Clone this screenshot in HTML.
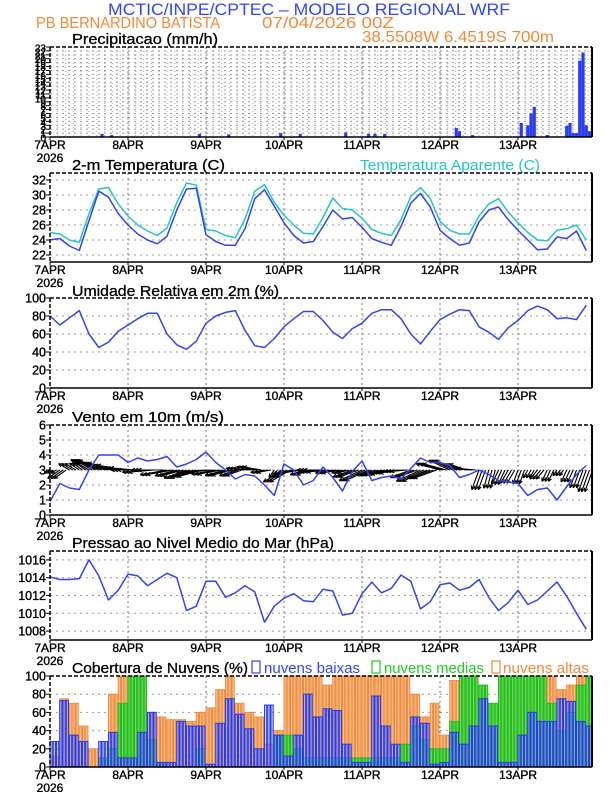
<!DOCTYPE html>
<html><head><meta charset="utf-8"><style>
body{margin:0;background:#fff;}
svg{display:block;font-family:"Liberation Sans",sans-serif;}
</style></head><body>
<svg id="chart" width="612" height="792" viewBox="0 0 612 792" xmlns="http://www.w3.org/2000/svg">
<text x="108" y="15" font-size="17" fill="#3344ff" textLength="402" lengthAdjust="spacingAndGlyphs">MCTIC/INPE/CPTEC – MODELO REGIONAL WRF</text>
<text x="36" y="28" font-size="16" fill="#f08a3a" textLength="184" lengthAdjust="spacingAndGlyphs">PB BERNARDINO BATISTA</text>
<text x="262" y="28" font-size="16" fill="#f08a3a" textLength="132" lengthAdjust="spacingAndGlyphs">07/04/2026 00Z</text>
<text x="362" y="42" font-size="16" fill="#f08a3a" textLength="192" lengthAdjust="spacingAndGlyphs">38.5508W 6.4519S 700m</text>
<g font-size="15" fill="#000" stroke="#000" stroke-width="0.3">
<text x="72" y="44" textLength="146" lengthAdjust="spacingAndGlyphs">Precipitacao (mm/h)</text>
<text x="72" y="170" textLength="153" lengthAdjust="spacingAndGlyphs">2-m Temperatura (C)</text>
<text x="72" y="296" textLength="207" lengthAdjust="spacingAndGlyphs">Umidade Relativa em 2m (%)</text>
<text x="72" y="422" textLength="152" lengthAdjust="spacingAndGlyphs">Vento em 10m (m/s)</text>
<text x="72" y="548" textLength="262" lengthAdjust="spacingAndGlyphs">Pressao ao Nivel Medio do Mar (hPa)</text>
<text x="72" y="673" textLength="176" lengthAdjust="spacingAndGlyphs">Cobertura de Nuvens (%)</text>
</g>
<text x="360" y="170" font-size="15" fill="#22c8c0" textLength="180" lengthAdjust="spacingAndGlyphs">Temperatura Aparente (C)</text>
<rect x="252" y="661" width="8" height="12" fill="none" stroke="#3344ff" stroke-width="1.2"/>
<text x="264" y="673" font-size="15" fill="#3344ff" textLength="96" lengthAdjust="spacingAndGlyphs">nuvens baixas</text>
<rect x="372" y="661" width="8" height="12" fill="none" stroke="#22cc22" stroke-width="1.2"/>
<text x="384" y="673" font-size="15" fill="#22cc22" textLength="100" lengthAdjust="spacingAndGlyphs">nuvens medias</text>
<rect x="492" y="661" width="8" height="12" fill="none" stroke="#f08a3a" stroke-width="1.2"/>
<text x="503" y="673" font-size="15" fill="#f08a3a" textLength="86" lengthAdjust="spacingAndGlyphs">nuvens altas</text>
</svg>
<script>
const dayLabels=["7APR","8APR","9APR","10APR","11APR","12APR","13APR"];
const precipHours=[16,19,46,55,71,77,91,98,100,103,125,126,130,145,147,148,149,153,159,160,161,162,163,164,165,166];
const precipVals=[0.8,0.5,0.8,0.7,1.0,0.8,1.2,0.8,0.8,0.8,2.3,1.5,0.5,3.6,3.0,6.0,7.7,0.5,2.8,3.6,1.0,1.0,19.5,21.6,3.0,1.5];
const tempB=[24.0,24.2,23.2,22.6,26.6,30.5,29.7,27.5,26.0,24.8,24.0,23.5,24.5,28.0,30.8,30.9,24.7,23.8,23.3,23.3,25.5,29.5,30.7,28.5,26.3,24.6,23.6,23.8,25.8,28.0,26.8,27.0,25.7,24.2,23.7,23.3,25.8,28.9,30.2,28.4,25.3,24.2,23.3,23.6,26.4,28.0,28.4,26.7,25.3,24.0,22.7,22.8,24.4,24.2,25.2,22.6];
const tempA=[25.0,24.8,24.0,23.7,27.5,30.8,31.0,28.8,27.2,26.0,25.2,24.6,25.6,29.0,31.6,31.3,25.4,25.2,24.6,24.3,26.8,30.5,31.4,29.0,27.3,26.0,24.9,24.8,27.0,29.6,28.2,28.0,26.9,25.4,24.9,24.6,26.7,29.8,31.0,29.5,26.5,25.3,24.8,24.8,27.2,28.8,29.5,27.7,26.3,25.0,24.0,23.9,25.3,25.5,26.0,24.0];
const rhVals=[80,70,78,86,60,45,51,63,70,77,83,83,60,48,43,52,72,80,84,86,64,47,45,55,68,77,85,85,75,62,55,66,72,83,87,87,77,60,49,63,76,82,87,86,68,62,54,67,75,86,91,87,77,78,76,92];
const windSpeed=[0.9,2.1,1.8,1.7,3.0,4.0,4.0,4.0,3.5,3.8,3.6,3.7,3.9,3.2,3.4,3.7,4.2,3.5,3.0,2.4,2.7,2.6,2.0,1.3,3.4,3.0,2.0,2.3,3.2,2.5,1.6,2.9,3.6,2.3,2.5,2.6,2.4,3.1,3.8,3.5,3.5,3.3,2.5,2.7,3.0,2.7,2.3,2.2,2.1,1.3,1.7,1.8,1.0,1.9,2.7,3.3];
const windDir=[210,215,150,145,150,160,165,170,175,180,185,180,190,195,200,195,185,190,195,200,175,170,190,235,210,190,200,180,185,190,195,200,205,200,195,190,185,200,205,200,165,155,160,175,250,255,245,240,250,240,230,245,235,245,250,250];
const presVals=[1014.1,1013.8,1013.8,1013.9,1016.0,1014.2,1011.5,1012.6,1014.4,1014.2,1013.1,1013.8,1014.5,1014.0,1010.3,1010.8,1013.6,1013.6,1011.8,1012.3,1013.1,1012.4,1009.0,1010.8,1011.7,1012.2,1011.4,1011.3,1012.7,1012.5,1009.8,1010.0,1012.2,1013.5,1012.3,1012.8,1014.3,1013.6,1010.5,1011.3,1013.2,1013.4,1012.6,1012.9,1013.8,1011.8,1010.3,1011.2,1012.6,1011.0,1011.5,1012.5,1013.5,1011.9,1010.0,1008.2];
const cloudHigh=[12,75,70,45,20,5,80,100,100,100,60,55,52,52,50,60,65,85,100,70,60,55,25,40,100,100,100,100,90,100,100,100,100,100,100,100,100,80,55,70,35,95,100,100,85,40,100,100,100,100,100,100,85,90,100,100];
const cloudMid=[0,0,0,0,0,10,20,70,100,100,30,5,0,0,0,20,0,0,0,0,0,0,0,35,35,20,10,10,10,10,10,10,10,10,10,10,25,45,30,20,20,50,100,100,90,70,100,100,100,100,100,70,40,60,90,100];
const cloudLow=[28,73,35,28,0,28,38,10,10,38,60,5,5,50,45,45,3,48,75,58,42,20,68,35,12,35,80,55,64,62,25,5,5,78,45,25,5,55,48,3,5,38,25,45,75,45,5,5,35,60,50,50,75,72,50,45];
const tempTicks=[22,24,26,28,30,32];
const rhTicks=[0,20,40,60,80,100];
const windTicks=[0,1,2,3,4,5,6];
const presTicks=[1008,1010,1012,1014,1016];
const cloudTicks=[0,20,40,60,80,100];
const STEP=3;

const NS="http://www.w3.org/2000/svg";
const svg=document.getElementById("chart");
const X0=50,X1=592,PXH=3.25,DAYPX=78;
function xh(h){return X0+h*PXH;}
function mk(tag,attrs,parent){const e=document.createElementNS(NS,tag);for(const k in attrs)e.setAttribute(k,attrs[k]);(parent||svg).appendChild(e);return e;}
function scaleY(top,bot,mn,mx){return v=>bot-(v-mn)/(mx-mn)*(bot-top);}

function frame(name,top,bot,ys,ticks,dense){
  const g=mk("g",{});
  
  
  if(dense){
    for(let x=X0+DAYPX/10;x<X1;x+=DAYPX/10){const l=mk("line",{x1:x,x2:x,y1:top,y2:bot,stroke:"#aaa","stroke-width":1,"stroke-dasharray":"1,3"},g);}
  }
  ticks.forEach(t=>{const y=ys(t);if(y>top+1&&y<bot-1){const l=mk("line",{x1:X0,x2:X1,y1:y,y2:y,stroke:"#999","stroke-width":1,"stroke-dasharray":"2,4"},g);}});
  for(let d=1;d<7;d++){const x=X0+d*DAYPX;const l=mk("line",{x1:x,x2:x,y1:top,y2:bot,stroke:"#777","stroke-width":1,"stroke-dasharray":"2,3"},g);}
  ticks.forEach(t=>{const y=ys(t);const tx=mk("text",{x:46,y:y+4.5,"font-size":dense?10:12.5,"text-anchor":"end",fill:"#000",stroke:"#000","stroke-width":0.35},g);tx.textContent=t;
    const tk=mk("line",{x1:46,x2:X0,y1:y,y2:y,stroke:"#000"},g);});
  dayLabels.forEach((d,i)=>{const x=X0+i*DAYPX;const tx=mk("text",{x:x,y:bot+12,"font-size":12,"text-anchor":"middle",fill:"#000",stroke:"#000","stroke-width":0.35},g);tx.textContent=d;
    const tk=mk("line",{x1:x,x2:x,y1:bot,y2:bot+3,stroke:"#000"},g);});
  const yr=mk("text",{x:X0,y:bot+25,"font-size":12,"text-anchor":"middle",fill:"#000",stroke:"#000","stroke-width":0.35},g);yr.textContent="2026";
  
  
  return g;
}
function border(top,bot){
  const g=mk("g",{});
  
  
  mk("line",{x1:X0,x2:X1,y1:top,y2:top,stroke:"#000","stroke-width":1.5,"stroke-dasharray":"4,2"},g);
  mk("line",{x1:X0,x2:X0,y1:top,y2:bot,stroke:"#000","stroke-width":1.5,"stroke-dasharray":"4,2"},g);
  mk("line",{x1:X0,x2:X1,y1:bot,y2:bot,stroke:"#000","stroke-width":1.5},g);
  mk("line",{x1:X1,x2:X1,y1:top,y2:bot,stroke:"#000","stroke-width":2},g);
}
function line(vals,ys,color,name,g){
  const pts=vals.map((v,i)=>xh(i*STEP).toFixed(1)+","+ys(v).toFixed(1)).join(" ");
  const p=mk("polyline",{points:pts,fill:"none",stroke:color,"stroke-width":1.5,"stroke-linejoin":"round"},g);
  
  
}

// precipitation
{const top=47,bot=137;const ys=scaleY(top,bot,0,23);const tk=[];for(let i=0;i<=23;i++)tk.push(i);
 const g=frame("precip",top,bot,ys,tk,true);
 precipHours.forEach((h,i)=>{const y=ys(precipVals[i]);const r=mk("rect",{x:xh(h)-1.6,y:y,width:3.2,height:bot-y,fill:"#2a3cf5"},g);
  
  });
 border(top,bot);}
// temperature
{const top=173,bot=262;const ys=scaleY(top,bot,21.07,32.93);const g=frame("temp",top,bot,ys,tempTicks,false);
 line(tempA,ys,"#22c8c0","apparent-temp-line",g);line(tempB,ys,"#3344ee","temp-line",g);border(top,bot);}
// humidity
{const top=298,bot=388;const ys=scaleY(top,bot,0,100);const g=frame("rh",top,bot,ys,rhTicks,false);
 line(rhVals,ys,"#3344ee","rh-line",g);border(top,bot);}
// wind
{const top=425,bot=515;const ys=scaleY(top,bot,0,6);const g=frame("wind",top,bot,ys,windTicks,false);
 const y3=ys(3);
 windSpeed.forEach((s,i)=>{const a=windDir[i]*Math.PI/180;const L=s*7;
  for(let k=0;k<3;k++){
  const x=xh(i*STEP+k);
  const tx=x+L*Math.cos(a),ty=y3-L*Math.sin(a);
  const ag=mk("g",{},g);
  
  
  mk("line",{x1:x,y1:y3,x2:tx,y2:ty,stroke:"#000","stroke-width":1.1},ag);
  [0.45,-0.45].forEach(d=>{const b=a+Math.PI+d;mk("line",{x1:tx,y1:ty,x2:tx+4*Math.cos(b),y2:ty-4*Math.sin(b),stroke:"#000","stroke-width":1.1},ag);});
  }
 });
 line(windSpeed,ys,"#3344ee","wind-speed-line",g);border(top,bot);}
// pressure
{const top=551,bot=640;const ys=scaleY(top,bot,1007,1017);const g=frame("pressure",top,bot,ys,presTicks,false);
 line(presVals,ys,"#3344ee","pressure-line",g);border(top,bot);}
// clouds
{const top=676,bot=767;const ys=scaleY(top,bot,0,100);const g=frame("cloud",top,bot,ys,cloudTicks,false);
 const w=2.2;
 function bars(arr,fill,stroke,sw,name){
  arr.forEach((v,i)=>{if(v<=0)return;const y=ys(v);
   for(let k=0;k<3;k++){const h=i*STEP+k;if(xh(h)+w>X1)continue;
    const r=mk("rect",{x:xh(h),y:y,width:w,height:bot-y,fill:fill,stroke:stroke,"stroke-width":sw},g);
    
    }
  });
 }
 bars(cloudHigh,"#f8c090","#f08a3a",1,'cloud-high-bar');
 bars(cloudMid,"#66dd55","#22bb22",1,'cloud-mid-bar');
 bars(cloudLow,"rgba(120,140,250,0.3)","#2a3cf0",1.1,'cloud-low-bar');
 border(top,bot);}
</script>
</body></html>
